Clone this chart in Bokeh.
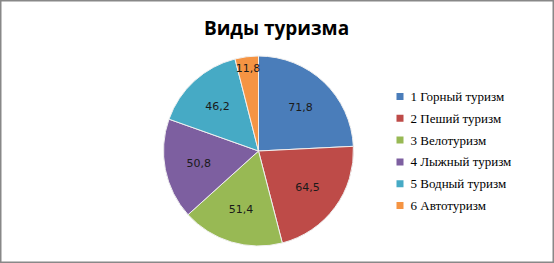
import math
from bokeh.plotting import figure
from bokeh.models import Range1d, ColumnDataSource
from bokeh.core.properties import value
from bokeh.embed import file_html
from bokeh.resources import INLINE

# ---- data ----
title = "Виды туризма"
categories = ["1 Горный туризм", "2 Пеший туризм", "3 Велотуризм",
              "4 Лыжный туризм", "5 Водный туризм", "6 Автотуризм"]
values = [71.8, 64.5, 51.4, 50.8, 46.2, 11.8]
value_labels = ["71,8", "64,5", "51,4", "50,8", "46,2", "11,8"]
colors = ["#4A7DBA", "#BE4B48", "#98B954", "#7D5FA0", "#46AAC5", "#F59443"]

# ---- layout ----
W, H = 554, 263
cx, cy, R = 258, H - 150.5, 95

p = figure(width=W, height=H, x_range=Range1d(0, W), y_range=Range1d(0, H),
           output_backend="svg", toolbar_location=None, min_border=0)
p.axis.visible = False
p.grid.visible = False
p.outline_line_color = "#888888"
p.outline_line_width = 2
p.background_fill_color = "white"

total = sum(values)
starts, ends, lx, ly = [], [], [], []
cum = 0.0
for v in values:
    a0 = cum / total * 2 * math.pi
    cum += v
    a1 = cum / total * 2 * math.pi
    starts.append(math.pi / 2 - a0)
    ends.append(math.pi / 2 - a1)
    mid = (a0 + a1) / 2
    frac = 0.88 if (a1 - a0) < math.radians(20) else 0.64
    lx.append(cx + frac * R * math.sin(mid))
    ly.append(cy + frac * R * math.cos(mid))

src = ColumnDataSource(dict(start=starts, end=ends, color=colors,
                            lx=lx, ly=ly, lab=value_labels))
p.wedge(x=cx, y=cy, radius=R, start_angle="start", end_angle="end",
        direction="clock", fill_color="color", line_color="#F0F0F0",
        line_width=1, source=src)
p.text(x="lx", y="ly", text="lab", source=src, text_align="center",
       text_baseline="middle", text_font=value("DejaVu Sans"),
       text_font_size="11px", text_color="#1A1A1A")

# title
p.text(x=[276], y=[H - 27], text=[title], text_align="center",
       text_baseline="middle", text_font=value("Open Sans"),
       text_font_style="bold", text_font_size="19px", text_color="#000000")

# legend
leg_y = [H - (96 + i * 21.8) for i in range(len(categories))]
p.rect(x=[399.5] * len(categories), y=leg_y, width=7, height=7,
       fill_color=colors, line_color=None)
p.text(x=[410] * len(categories), y=leg_y, text=categories,
       text_baseline="middle",
       text_font=value("Liberation Serif"),
       text_font_size="13px", text_color="#000000")

open("out.html", "w").write(file_html(p, INLINE))
